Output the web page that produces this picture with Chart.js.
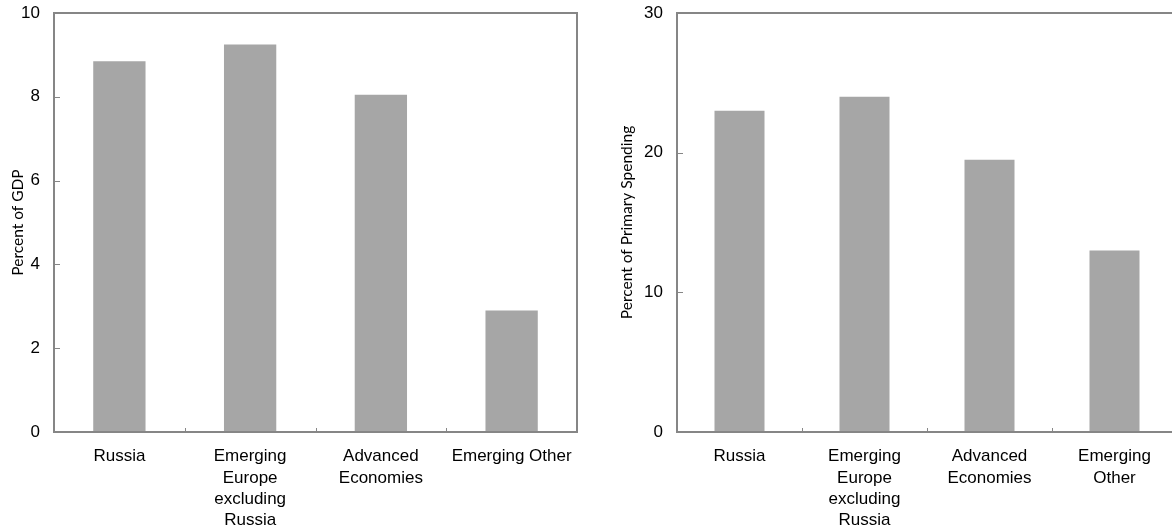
<!DOCTYPE html>
<html>
<head>
<meta charset="utf-8">
<script src="https://cdn.jsdelivr.net/npm/chart.js@4/dist/chart.umd.min.js"></script>
<style>
  html, body { margin: 0; padding: 0; background: #fff; overflow: hidden; }
  #wrap { position: relative; width: 1172px; height: 529px; overflow: hidden; }
  #gdpChart { position: absolute; left: 0; top: 0; }
  #spendChart { position: absolute; left: 600px; top: 0; }
</style>
</head>
<body>
<div id="wrap">
  <canvas id="gdpChart" width="600" height="529"></canvas>
  <canvas id="spendChart" width="580" height="529"></canvas>
</div>
<script>
const gdpLabels = ['Russia', ['Emerging', 'Europe', 'excluding', 'Russia'], ['Advanced', 'Economies'], 'Emerging Other'];
const spendLabels = ['Russia', ['Emerging', 'Europe', 'excluding', 'Russia'], ['Advanced', 'Economies'], ['Emerging', 'Other']];
const gdpValues = [8.85, 9.25, 8.05, 2.9];
const spendValues = [23, 24, 19.5, 13];
const gdpTicks = [0, 2, 4, 6, 8, 10];
const spendTicks = [0, 10, 20, 30];

const AXIS = '#868686';
const BAR = '#a6a6a6';

// frame around the plot plus short inward ticks, like the old spreadsheet charts
const framePlugin = {
    id: 'frame',
    afterDraw(chart) {
        const { ctx, chartArea: a, scales } = chart;
        ctx.save();
        ctx.strokeStyle = AXIS;
        ctx.lineWidth = 1;
        scales.y.ticks.forEach(t => {
            const y = Math.round(scales.y.getPixelForValue(t.value)) + 0.5;
            ctx.beginPath();
            ctx.moveTo(a.left, y);
            ctx.lineTo(a.left + 6, y);
            ctx.stroke();
        });
        const n = chart.data.labels.length;
        for (let i = 1; i < n; i++) {
            const x = Math.round((scales.x.getPixelForValue(i - 1) + scales.x.getPixelForValue(i)) / 2) + 0.5;
            ctx.beginPath();
            ctx.moveTo(x, a.bottom);
            ctx.lineTo(x, a.bottom - 4);
            ctx.stroke();
        }
        ctx.lineWidth = 2;
        ctx.strokeRect(a.left, a.top, a.right - a.left, a.bottom - a.top);
        ctx.restore();
    }
};

function makeChart(id, labels, values, tickValues, title, yWidth, titlePad, padRight) {
    const max = tickValues[tickValues.length - 1];
    return new Chart(document.getElementById(id), {
        type: 'bar',
        data: {
            labels: labels,
            datasets: [{
                data: values,
                backgroundColor: BAR,
                borderWidth: 0,
                categoryPercentage: 0.4,
                barPercentage: 1
            }]
        },
        options: {
            responsive: false,
            animation: false,
            layout: { padding: { top: 13, right: padRight, bottom: 0, left: 0 } },
            plugins: { legend: { display: false }, tooltip: { enabled: false } },
            scales: {
                x: {
                    grid: { display: false },
                    border: { display: false },
                    ticks: {
                        color: '#000',
                        padding: 6,
                        maxRotation: 0,
                        autoSkip: false,
                        font: { family: 'Liberation Sans', size: 17, lineHeight: 1.25 }
                    },
                    afterFit: s => { s.height = 97; }
                },
                y: {
                    min: 0,
                    max: max,
                    afterBuildTicks: s => { s.ticks = tickValues.map(v => ({ value: v })); },
                    grid: { display: false },
                    border: { display: false },
                    ticks: {
                        color: '#000',
                        padding: 6,
                        font: { family: 'Liberation Sans', size: 17 }
                    },
                    title: {
                        display: true,
                        text: title,
                        color: '#000',
                        padding: { top: titlePad, bottom: 0 },
                        font: { family: 'Lato', size: 15.5 }
                    },
                    afterFit: s => {
                        s.width = yWidth;
                        s.paddingTop = 0;
                        s.paddingBottom = 0;
                    }
                }
            }
        },
        plugins: [framePlugin]
    });
}

makeChart('gdpChart', gdpLabels, gdpValues, gdpTicks, 'Percent of GDP', 54, 9, 23);
makeChart('spendChart', spendLabels, spendValues, spendTicks, 'Percent of Primary Spending', 77, 18, 3);
</script>
</body>
</html>
